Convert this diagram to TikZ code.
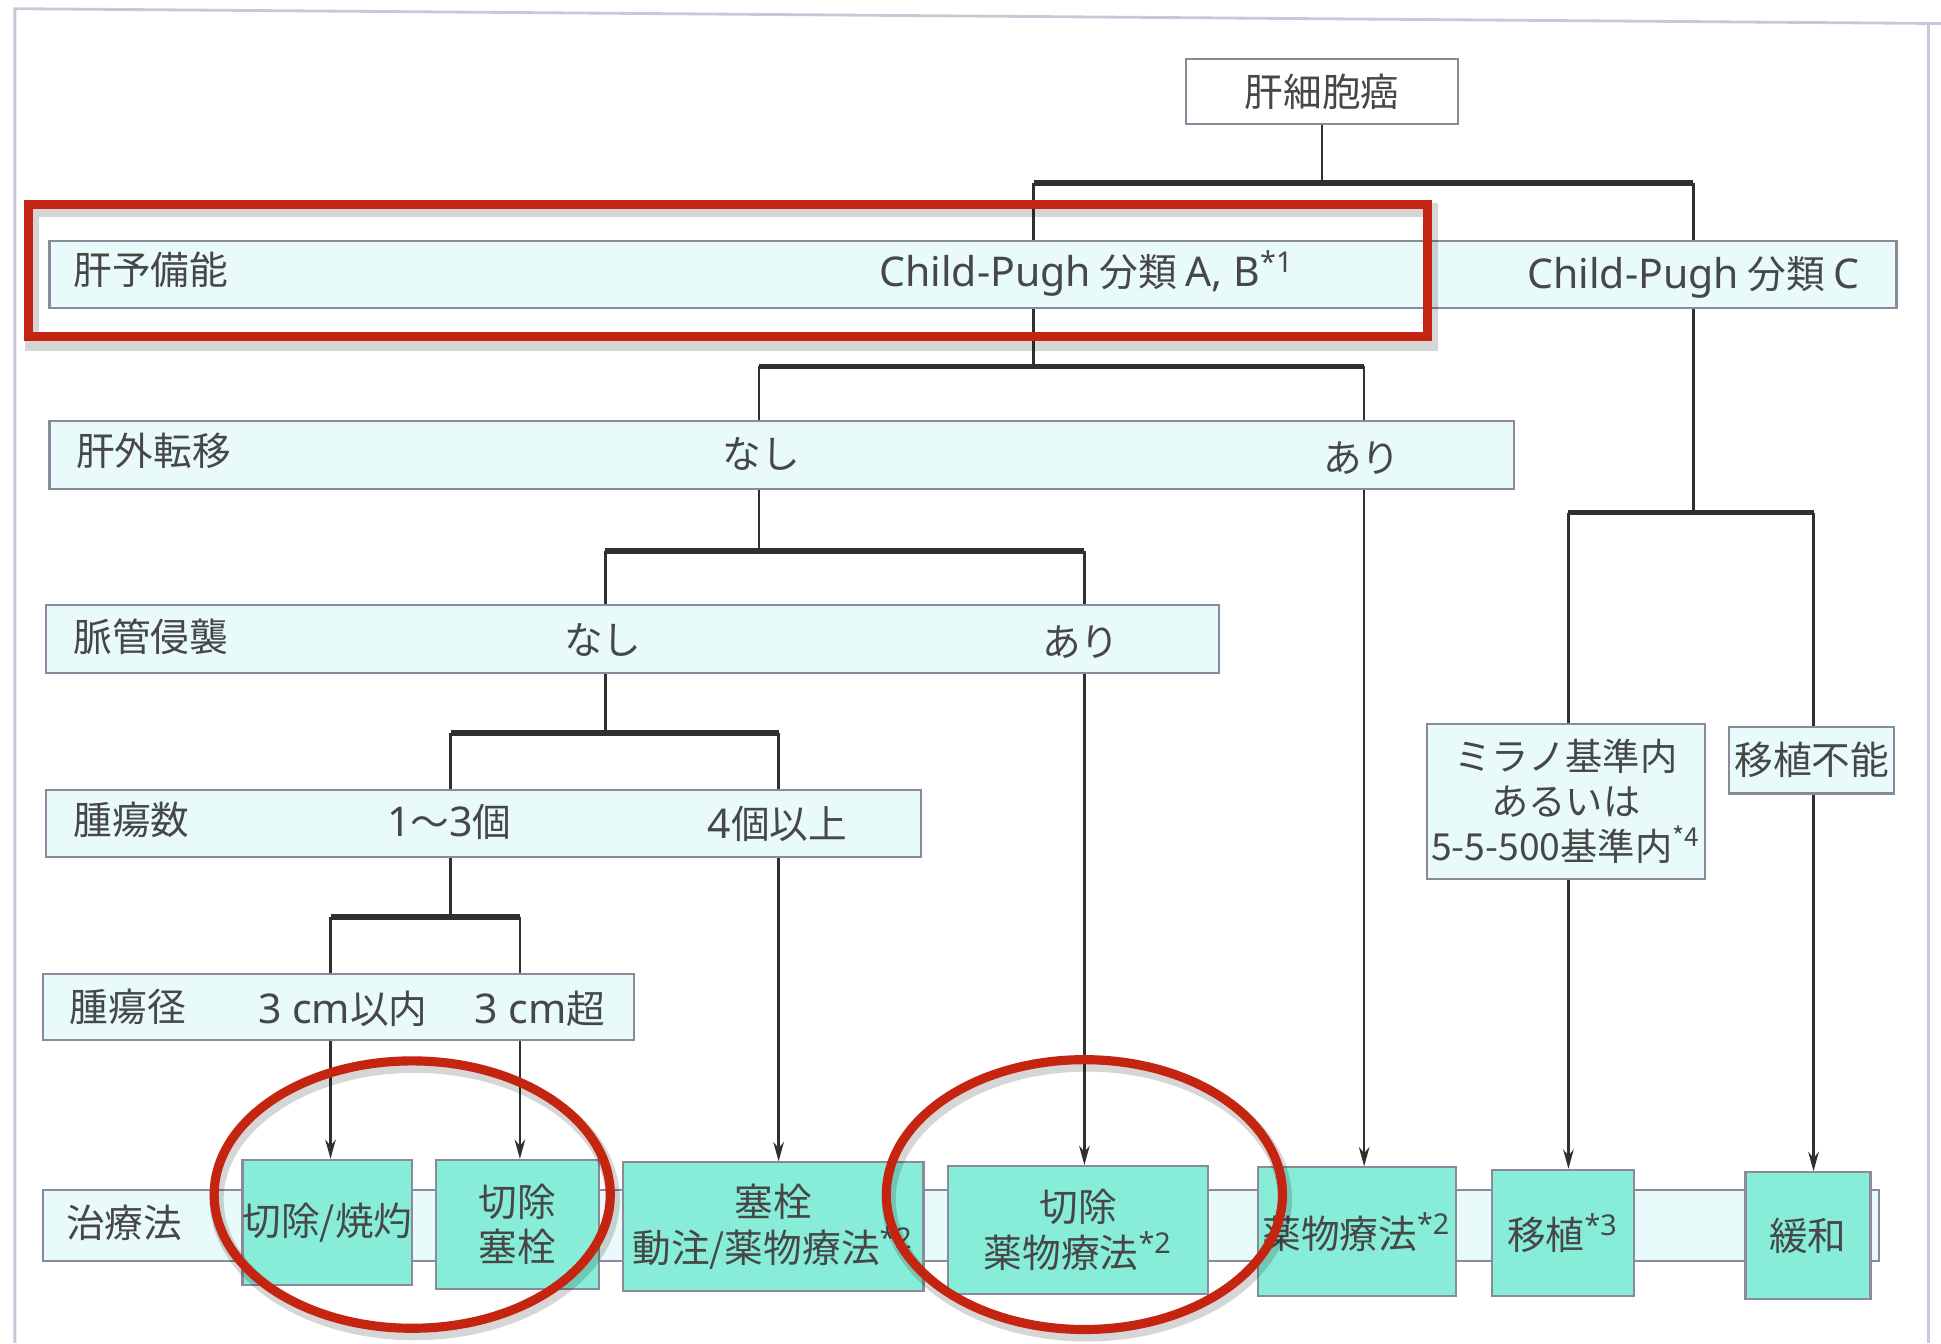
\documentclass[tikz,border=0pt]{standalone}
\usepackage{fontspec}
\setmainfont{Noto Sans CJK JP}
\newfontfamily\latf[Scale=1.06]{Noto Sans}
\usetikzlibrary{arrows.meta}
\newcommand{\unitu}{0.012379cm}
\definecolor{bandfill}{HTML}{E8FBFA}
\definecolor{boxfill}{HTML}{88EDD8}
\definecolor{edgegray}{HTML}{8A8A9A}
\definecolor{txtc}{HTML}{474747}
\definecolor{linec}{HTML}{303030}
\definecolor{redmk}{HTML}{C52410}
\definecolor{framec}{HTML}{C8C8D8}
\pgfdeclarelayer{back}
\pgfdeclarelayer{bg}
\pgfsetlayers{back,bg,main}
\tikzset{
  band/.style={draw=edgegray, fill=bandfill, line width=0.6pt, inner sep=0pt},
  tbox/.style={draw=edgegray, fill=boxfill, line width=0.6pt, align=center, inner sep=0pt},
  cbox/.style={draw=edgegray, fill=bandfill, line width=0.6pt, align=center, inner sep=0pt},
  lbl/.style={inner sep=1pt, text=txtc},
  vline/.style={draw=linec, line width=0.7pt},
  hbar/.style={draw=linec, line width=1.6pt},
  arr/.style={vline, -{Stealth[length=5.5pt,width=3pt]}},
  redmark/.style={draw=redmk, line width=2.6pt},
  shademark/.style={draw=black, opacity=0.16, line width=4pt},
  framel/.style={draw=framec, line width=0.8pt}
}
\begin{document}
\begin{tikzpicture}[x=\unitu, y=-\unitu, font=\fontsize{11}{13}\selectfont, text=txtc]
\useasboundingbox (0,0) rectangle (1568,1085);
\begin{pgfonlayer}{back}
\fill[white] (0,0) rectangle (1568,1085);
\end{pgfonlayer}
% frame
\draw[framel] (12,1085) -- (12,7) -- (1568,19);
\draw[framel] (1558,19) -- (1558,1085);

% top node
\node[draw=edgegray, fill=white, line width=0.6pt, minimum width=220*\unitu, minimum height=52*\unitu, text=txtc] (top) at (1068,74) {肝細胞癌};

% bands
\node[band, minimum width=1492*\unitu, minimum height=54*\unitu] (bandA) at (786,222) {};
\node[band, minimum width=1183*\unitu, minimum height=55*\unitu] (bandB) at (631.5,367.5) {};
\node[band, minimum width=948*\unitu, minimum height=55*\unitu] (bandC) at (511,516.5) {};
\node[band, minimum width=707*\unitu, minimum height=54*\unitu] (bandD) at (390.5,665) {};
\node[band, minimum width=477*\unitu, minimum height=53*\unitu] (bandE) at (273.5,813.5) {};
\node[band, minimum width=1483*\unitu, minimum height=58*\unitu] (bandF) at (776.5,990) {};

% band texts
\node[lbl, anchor=west] (lA) at (56,218) {肝予備能};
\node[lbl] (lAab) at (878,221) {{\latf Child-Pugh} 分類 {\latf A, B}\textsuperscript{\latf *1}};
\node[lbl] (lAc) at (1368,224) {{\latf Child-Pugh} 分類 {\latf C}};
\node[lbl, anchor=west] (lB) at (58,364) {肝外転移};
\node[lbl] (lBno) at (615,367) {なし};
\node[lbl] (lByes) at (1100,370) {あり};
\node[lbl, anchor=west] (lC) at (56,514) {脈管侵襲};
\node[lbl] (lCno) at (487,517) {なし};
\node[lbl] (lCyes) at (873,519) {あり};
\node[lbl, anchor=west] (lD) at (56,662) {腫瘍数};
\node[lbl] (lDfew) at (363,664) {{\latf 1}〜{\latf 3}個};
\node[lbl] (lDmany) at (628,666) {{\latf 4}個以上};
\node[lbl, anchor=west] (lE) at (53,813) {腫瘍径};
\node[lbl] (lEs) at (277,815) {{\latf 3 cm}以内};
\node[lbl] (lEl) at (436,815) {{\latf 3 cm}超};
\node[lbl, anchor=west] (lF) at (50,988) {治療法};

% right-side boxes
\node[cbox, minimum width=224*\unitu, minimum height=125*\unitu, text=txtc, font=\fontsize{10.6}{12.8}\selectfont] (milan) at (1265,647.5) {ミラノ基準内\\あるいは\\5-5-500基準内\textsuperscript{*4}};
\node[cbox, minimum width=133*\unitu, minimum height=54*\unitu, text=txtc] (nolt) at (1463.5,614) {移植不能};

% treatment boxes
\node[tbox, minimum width=133*\unitu, minimum height=101*\unitu, text=txtc] (tx1) at (264.5,987.5) {切除/焼灼};
\node[tbox, minimum width=132*\unitu, minimum height=104*\unitu, text=txtc] (tx2) at (418,989) {切除\\塞栓};
\node[tbox, minimum width=243*\unitu, minimum height=104*\unitu, text=txtc] (tx3) at (624.5,991) {塞栓\\動注/薬物療法\textsuperscript{\latf *2}};
\node[tbox, minimum width=210*\unitu, minimum height=103*\unitu, text=txtc] (tx4) at (871,993.5) {切除\\薬物療法\textsuperscript{\latf *2}};
\node[tbox, minimum width=160*\unitu, minimum height=104*\unitu, text=txtc] (tx5) at (1096,995) {薬物療法\textsuperscript{\latf *2}};
\node[tbox, minimum width=115*\unitu, minimum height=102*\unitu, text=txtc] (tx6) at (1262.5,996) {移植\textsuperscript{\latf *3}};
\node[tbox, minimum width=101*\unitu, minimum height=102*\unitu, text=txtc] (tx7) at (1460.5,998) {緩和};

% junction coordinates
\coordinate (j0) at (1068,148);
\coordinate (b1L) at (835,148); \coordinate (b1R) at (1368,148);
\coordinate (j2) at (835,296); \coordinate (b2L) at (613,296); \coordinate (b2R) at (1102,296);
\coordinate (jR) at (1368,414); \coordinate (bRL) at (1267,414); \coordinate (bRR) at (1465,414);
\coordinate (j3) at (613,445); \coordinate (b3L) at (489,445); \coordinate (b3R) at (876,445);
\coordinate (j4) at (489,592); \coordinate (b4L) at (364,592); \coordinate (b4R) at (629,592);
\coordinate (j5) at (364,741); \coordinate (b5L) at (267,741); \coordinate (b5R) at (420,741);

\begin{pgfonlayer}{bg}
\draw[vline] (top.south) -- (j0);
\draw[hbar] (b1L) -- (b1R);
\draw[vline] (b1L) -- (j2);
\draw[vline] (b1R) -- (jR);
\draw[hbar] (b2L) -- (b2R);
\draw[hbar] (bRL) -- (bRR);
\draw[vline] (b2L) -- (j3);
\draw[hbar] (b3L) -- (b3R);
\draw[vline] (b3L) -- (j4);
\draw[hbar] (b4L) -- (b4R);
\draw[vline] (b4L) -- (j5);
\draw[hbar] (b5L) -- (b5R);
\draw[vline] (bRL) -- (bRL |- milan.north);
\draw[vline] (bRR) -- (bRR |- nolt.north);
\draw[arr] (b5L) -- (b5L |- tx1.north);
\draw[arr] (b5R) -- (b5R |- tx2.north);
\draw[arr] (b4R) -- (b4R |- tx3.north);
\draw[arr] (b3R) -- (b3R |- tx4.north);
\draw[arr] (b2R) -- (b2R |- tx5.north);
\draw[arr] (bRL |- milan.south) -- (bRL |- tx6.north);
\draw[arr] (bRR |- nolt.south) -- (bRR |- tx7.north);
\end{pgfonlayer}

% red highlights
\draw[shademark] (26,170) rectangle (1156,278);
\draw[redmark] (23,165) rectangle (1153,272);
\draw[shademark] (335,969) ellipse [x radius=160*\unitu, y radius=108*\unitu];
\draw[redmark] (333,965) ellipse [x radius=160*\unitu, y radius=108*\unitu];
\draw[shademark] (878,969) ellipse [x radius=160*\unitu, y radius=109*\unitu];
\draw[redmark] (876,965) ellipse [x radius=160*\unitu, y radius=109*\unitu];
\end{tikzpicture}
\end{document}
